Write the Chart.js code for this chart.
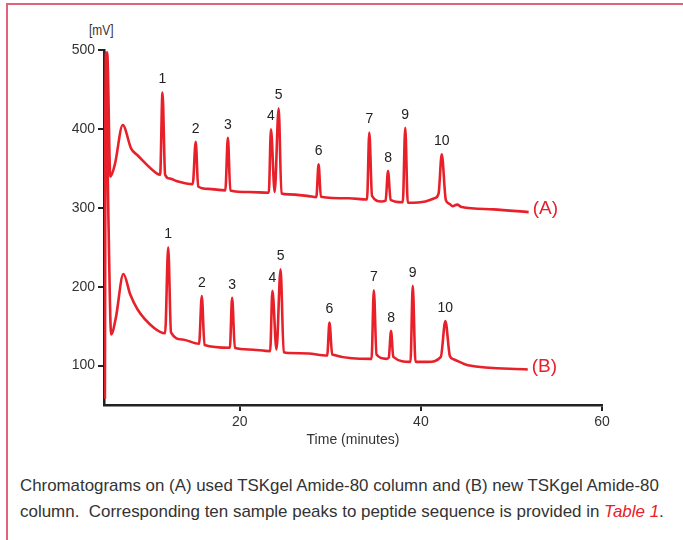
<!DOCTYPE html>
<html>
<head>
<meta charset="utf-8">
<script src="https://cdn.jsdelivr.net/npm/chart.js@4.4.1/dist/chart.umd.min.js"></script>
<style>
  html, body { margin: 0; padding: 0; background: #fff; }
  body { width: 683px; height: 540px; position: relative; overflow: hidden;
         font-family: 'Liberation Sans', Arial, sans-serif; }
  #frame { position: absolute; left: 6px; top: 3px; width: 690px; height: 560px;
           border-left: 2px solid #e2627a; border-top: 2px solid #e2627a; }
  #wrap { position: absolute; left: 0; top: 0; width: 683px; height: 460px; }
  #unit { position: absolute; left: 89px; top: 22px; font-size: 14px; color: #333;
          transform: scaleX(0.85); transform-origin: left; }
  #caption { position: absolute; left: 20px; top: 473px;
             font-size: 17px; line-height: 26px; color: #333; white-space: nowrap; }
  #caption span { display: inline-block; transform-origin: left; }
  #caption em { color: #e8202a; }
</style>
</head>
<body>
<div id="frame"></div>
<div id="unit">[mV]</div>
<div id="wrap"><canvas id="chrom"></canvas></div>
<div id="caption"><span id="cap1">Chromatograms on (A) used TSKgel Amide-80 column and (B) new TSKgel Amide-80</span><br><span id="cap2">column.&nbsp; Corresponding ten sample peaks to peptide sequence is provided in <em>Table 1</em>.</span></div>
<script>
// retention time (minutes) and detector signal (mV)
var timeA = [5.0, 5.35, 5.7, 6.2, 7.07, 8.0, 8.7, 10.9, 11.2, 11.46, 11.75, 12.3, 13.0, 14.8, 15.13, 15.4, 16.5, 18.4,
    18.68, 18.95, 21.0, 23.2, 23.44, 23.85, 24.29, 24.6, 25.4, 27.6, 28.45, 28.7, 28.95, 32.0, 34.05, 34.3, 34.6,
    35.64, 36.1, 36.37, 36.65, 38.0, 38.27, 38.55, 40.5, 41.5, 41.95, 42.3, 42.75, 43.15, 43.5, 44.0, 44.5, 48.0, 51.9];
var signalA = [330, 497, 339.5, 355, 405, 375, 366.6, 343, 342, 446, 342, 337, 334, 330, 383.6, 327, 324, 322,
    388.7, 322, 320, 319, 399.4, 320, 426, 318, 317, 314.8, 313.5, 355, 314, 312, 310.5, 395.5, 315,
    308, 309, 346.6, 310, 307, 401.4, 306.4, 308, 312, 318, 367.8, 310, 305, 302, 304, 301, 298, 294.5];
var timeB = [5.1, 5.2, 5.5, 5.79, 6.3, 7.14, 7.9, 8.71, 10.5, 11.75, 12.09, 12.4, 13.66, 15.5, 15.8, 16.1, 18.9, 19.15,
    19.45, 21.0, 23.35, 23.6, 24.05, 24.5, 24.85, 25.4, 27.6, 29.65, 29.9, 30.2, 34.55, 34.8, 35.1, 36.2, 36.45, 36.7,
    36.95, 38.85, 39.1, 39.4, 40.8, 42.2, 42.7, 43.2, 43.6, 45.2, 51.8];
var signalB = [58, 497, 280, 139.5, 160, 216, 190, 171, 148, 141, 250, 142, 133, 127.6, 188, 126, 122.5, 186,
    122.5, 120.4, 118.3, 194.7, 120.4, 222, 117, 116, 115.3, 112.7, 154.4, 114, 108.5, 195.5, 114, 108.5, 110, 143.7,
    111, 104.7, 201, 104.7, 104.7, 111, 156.5, 112, 108, 100.4, 95];
var peakNames = ['1', '2', '3', '4', '5', '6', '7', '8', '9', '10'];
var peakTimesA = [11.46, 15.13, 18.68, 23.44, 24.29, 28.7, 34.3, 36.37, 38.27, 42.3];
var peakTimesB = [12.09, 15.8, 19.15, 23.6, 24.5, 29.9, 34.8, 36.7, 39.1, 42.7];
var traceNames = ['(A)', '(B)'];
var yTicks = [100, 200, 300, 400, 500];
var xTicks = [20, 40, 60];

var RED = '#e8202a';
var INK = '#222';
var FONT = "'Liberation Sans', Arial, sans-serif";

function pairs(xs, ys) {
    return xs.map(function (x, i) { return { x: x, y: ys[i] }; });
}

// squeeze the caption lines to the width they take in the printed figure
[['cap1', 639], ['cap2', 644]].forEach(function (c) {
    var el = document.getElementById(c[0]);
    el.style.transform = 'scaleX(' + (c[1] / el.offsetWidth) + ')';
});

// peak numbers above each peak and the (A)/(B) tags at the end of each trace
var peakLabels = {
    id: 'peakLabels',
    afterDatasetsDraw: function (chart) {
        var ctx = chart.ctx;
        var peakSets = [peakTimesA, peakTimesB];
        ctx.save();
        chart.data.datasets.forEach(function (ds, d) {
            var meta = chart.getDatasetMeta(d);
            ctx.font = '14px ' + FONT;
            ctx.fillStyle = INK;
            ctx.textAlign = 'center';
            ctx.textBaseline = 'middle';
            peakSets[d].forEach(function (t, k) {
                var idx = ds.data.findIndex(function (p) { return p.x === t; });
                var pt = meta.data[idx];
                ctx.fillText(peakNames[k], pt.x, pt.y - 13);
            });
            var last = meta.data[meta.data.length - 1];
            ctx.font = '19px ' + FONT;
            ctx.fillStyle = RED;
            ctx.textAlign = 'left';
            ctx.fillText(traceNames[d], last.x + 4, last.y - 3);
        });
        ctx.restore();
    }
};

new Chart(document.getElementById('chrom'), {
    type: 'line',
    data: {
        datasets: [
            { label: 'A', data: pairs(timeA, signalA) },
            { label: 'B', data: pairs(timeB, signalB) }
        ]
    },
    options: {
        responsive: true,
        maintainAspectRatio: false,
        animation: false,
        layout: { padding: { left: 54, top: 50, right: 81, bottom: 11 } },
        elements: {
            line: { borderColor: RED, borderWidth: 2.6, cubicInterpolationMode: 'monotone', fill: false },
            point: { radius: 0, hoverRadius: 0 }
        },
        plugins: { legend: { display: false }, tooltip: { enabled: false } },
        scales: {
            x: {
                type: 'linear', min: 5, max: 60,
                afterBuildTicks: function (s) { s.ticks = xTicks.map(function (v) { return { value: v }; }); },
                afterFit: function (s) { s.height = 44; },
                border: { display: true, color: INK, width: 2.5 },
                grid: { drawOnChartArea: false, drawTicks: true, tickLength: 6, color: INK, lineWidth: 2 },
                ticks: { color: '#333', font: { family: FONT, size: 14 }, padding: 3, maxRotation: 0 },
                title: { display: true, text: 'Time (minutes)', color: '#333', font: { family: FONT, size: 14 }, padding: 0 }
            },
            y: {
                min: 50, max: 500,
                afterBuildTicks: function (s) { s.ticks = yTicks.map(function (v) { return { value: v }; }); },
                afterFit: function (s) { s.width = 50; },
                border: { display: true, color: INK, width: 2.5 },
                grid: { drawOnChartArea: false, drawTicks: true, tickLength: 6, color: INK, lineWidth: 2 },
                ticks: { color: '#333', font: { family: FONT, size: 14 }, padding: 3 }
            }
        }
    },
    plugins: [peakLabels]
});
</script>
</body>
</html>
